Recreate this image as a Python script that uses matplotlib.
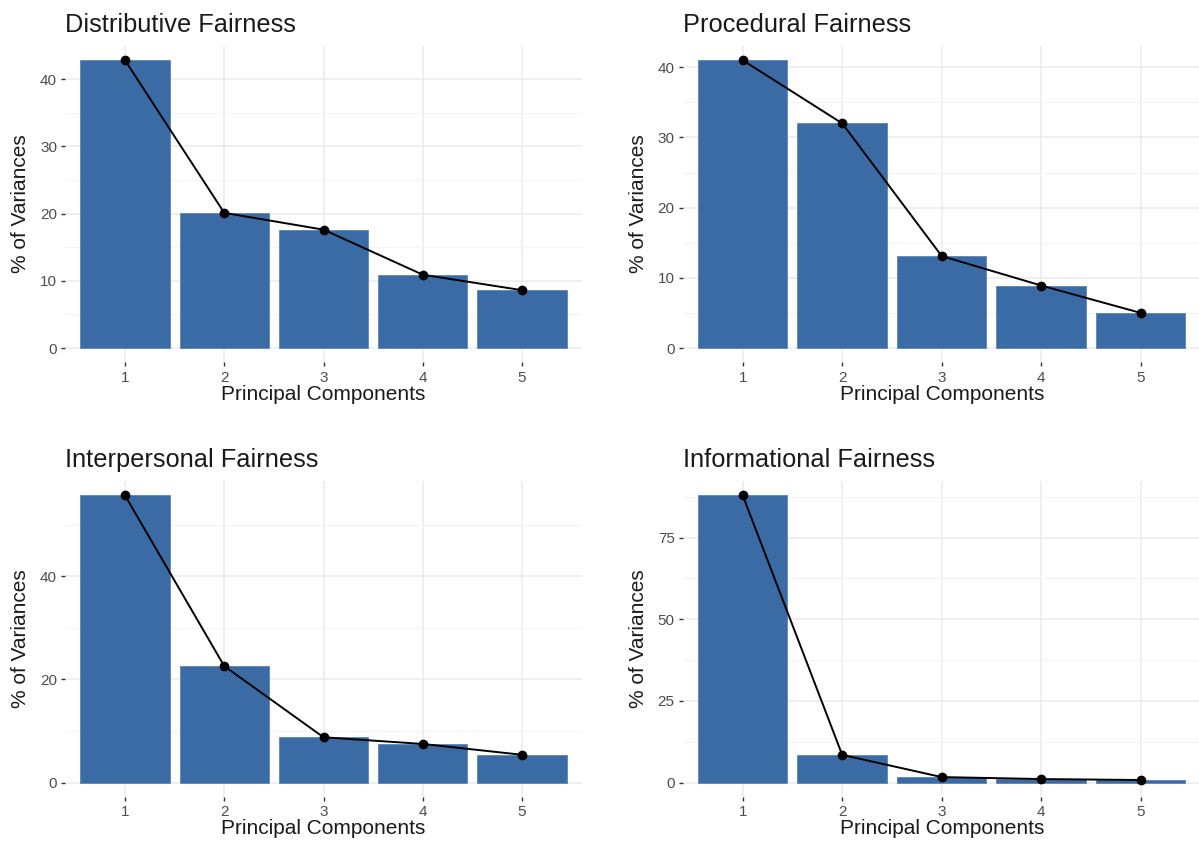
"""Scree plots — 4 fairness dimensions (fviz_eig style)."""
import matplotlib
matplotlib.use("Agg")
import matplotlib.pyplot as plt

plt.rcParams["font.family"] = ["Liberation Sans", "DejaVu Sans"]

components = [1, 2, 3, 4, 5]
titles = ["Distributive Fairness", "Procedural Fairness",
          "Interpersonal Fairness", "Informational Fairness"]
distributive = [42.8, 20.1, 17.6, 10.9, 8.6]
procedural = [41.0, 32.0, 13.1, 8.9, 5.0]
interpersonal = [55.7, 22.6, 8.8, 7.5, 5.4]
informational = [87.9, 8.5, 1.7, 1.1, 0.8]
yticks = [[0, 10, 20, 30, 40], [0, 10, 20, 30, 40],
          [0, 20, 40], [0, 25, 50, 75]]
yminor = [[5, 15, 25, 35], [5, 15, 25, 35],
          [10, 30, 50], [12.5, 37.5, 62.5, 87.5]]

BAR = "#3A6BA4"
W, H = 1199, 847
boxes = [(65.4, 45.8, 516.2, 316.6), (683.0, 45.8, 517.4, 316.6),
         (65.4, 481.0, 516.2, 316.0), (683.0, 481.0, 517.4, 316.0)]

fig = plt.figure(figsize=(W / 100, H / 100), dpi=100)
for i, vals in enumerate([distributive, procedural, interpersonal, informational]):
    x0, y0, w, h = boxes[i]
    ax = fig.add_axes([x0 / W, 1 - (y0 + h) / H, w / W, h / H])
    ax.bar(components, vals, width=0.9, color=BAR, edgecolor="#5A86B8",
           linewidth=0.6, zorder=2)
    ax.plot(components, vals, color="black", lw=1.4, zorder=3)
    ax.scatter(components, vals, color="black", s=36, zorder=4)
    top = max(vals)
    ax.set_xlim(0.4, 5.6)
    ax.set_ylim(-0.05 * top, 1.05 * top)
    ax.set_xticks(components)
    ax.set_yticks(yticks[i])
    ax.set_yticks(yminor[i], minor=True)
    ax.grid(which="major", color="#EBEBEB", lw=1.1, zorder=0)
    ax.grid(which="minor", axis="y", color="#F4F4F4", lw=0.8, zorder=0)
    ax.tick_params(which="minor", length=0)
    ax.tick_params(which="major", colors="#333333", labelcolor="#4D4D4D",
                   labelsize=11, length=3, width=1.0, pad=3)
    for s in ax.spines.values():
        s.set_visible(False)
    ax.set_axisbelow(True)
    ax.set_title(titles[i], loc="left", fontsize=18.3, color="#1A1A1A", pad=10)
    ax.set_xlabel("Principal Components", fontsize=15, color="#1A1A1A", labelpad=0)
    ax.set_ylabel("% of Variances", fontsize=15, color="#1A1A1A", labelpad=7)

fig.savefig("out.png", dpi=100)
print("saved out.png")
